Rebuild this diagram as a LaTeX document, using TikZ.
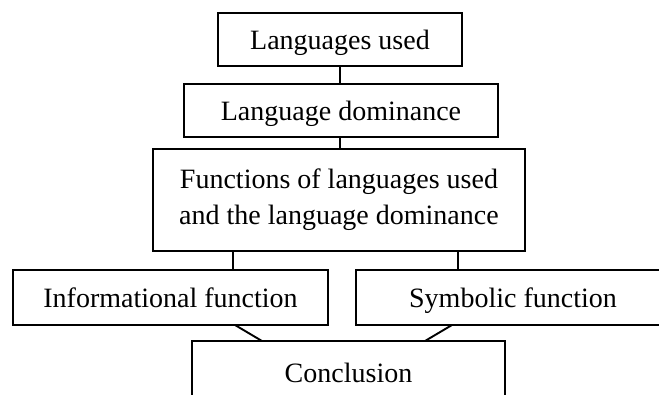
\documentclass[tikz,border=0pt]{standalone}
\usepackage{fontspec}
\setmainfont{Liberation Serif}
\begin{document}
\begin{tikzpicture}[x=1pt,y=-1pt,
  box/.style={draw,line width=1.9pt,inner sep=0pt,outer sep=0pt,align=center,
    font=\fontsize{28}{36}\selectfont},
  one/.style={text height=21pt,text depth=2pt},
  conn/.style={line width=1.9pt}]
\useasboundingbox (0,0) rectangle (659,394);
\clip (0,0) rectangle (659,394);
\node[box,one,minimum width=244pt,minimum height=53pt] (b1) at (340,39.5) {Languages used};
\node[box,one,minimum width=314pt,minimum height=53pt] (b2) at (341,110.5) {Language dominance};
\node[box,minimum width=372pt,minimum height=102pt] (b3) at (339,200) {Functions of languages used\\and the language dominance};
\node[box,one,minimum width=315pt,minimum height=55pt] (b4) at (170.5,297.5) {Informational function};
\node[box,one,minimum width=314pt,minimum height=55pt] (b5) at (513,297.5) {Symbolic function};
\node[box,one,minimum width=313pt,minimum height=64pt] (b6) at (348.5,373) {Conclusion};
\draw[conn] (b1.south -| 340,0) -- (b2.north -| 340,0);
\draw[conn] (b2.south -| 340,0) -- (b3.north -| 340,0);
\draw[conn] (b3.south -| 233,0) -- (b4.north -| 233,0);
\draw[conn] (b3.south -| 458,0) -- (b5.north -| 458,0);
\draw[conn] (b4.south -| 235,0) -- (b6.north -| 262,0);
\draw[conn] (b5.south -| 452,0) -- (b6.north -| 425,0);
\end{tikzpicture}
\end{document}
